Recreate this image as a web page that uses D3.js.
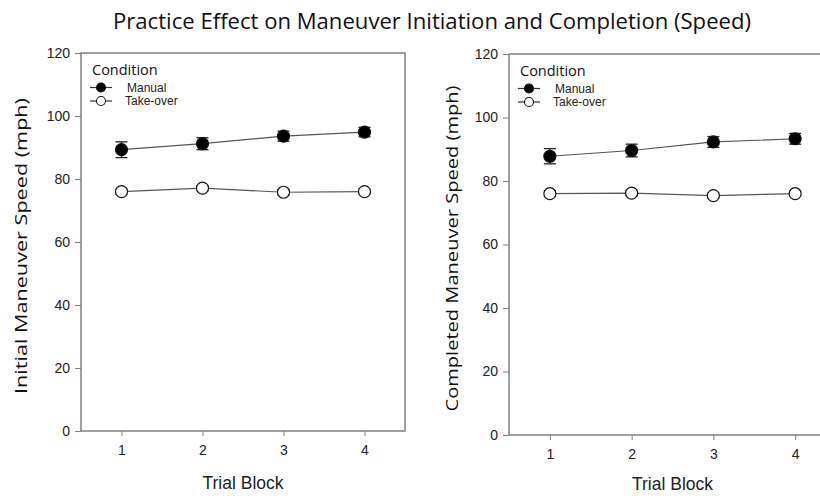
<!DOCTYPE html>
<html>
<head>
<meta charset="utf-8">
<script src="https://cdn.jsdelivr.net/npm/d3@7"></script>
<style>
  body { margin: 0; background: #fff; }
  .tick text { font-family: "Liberation Sans", Arial, sans-serif; font-size: 14px; fill: #222; }
  .tick line, .domain { stroke: #808080; }
</style>
</head>
<body>
<div id="chart"></div>
<script>
var blocks = [1, 2, 3, 4];
var yTicks = [0, 20, 40, 60, 80, 100, 120];
var seriesNames = ["Manual", "Take-over"];

// initial maneuver speed (mph)
var initManual = [89.3, 91.2, 93.6, 94.9];
var initManualErr = [2.5, 1.9, 1.6, 1.5];
var initTakeover = [76.0, 77.1, 75.8, 76.0];
var initTakeoverErr = [0.8, 0.8, 0.8, 0.8];

// completed maneuver speed (mph)
var compManual = [87.8, 89.6, 92.3, 93.3];
var compManualErr = [2.4, 2.0, 1.7, 1.7];
var compTakeover = [76.0, 76.2, 75.4, 76.0];
var compTakeoverErr = [0.9, 0.9, 0.8, 0.8];

var W = 820, H = 496;

var svg = d3.select("#chart").append("svg")
    .attr("width", W)
    .attr("height", H);

svg.append("text")
    .attr("x", 432)
    .attr("y", 29)
    .attr("text-anchor", "middle")
    .attr("textLength", 638)
    .attr("lengthAdjust", "spacingAndGlyphs")
    .style("font-family", "'Open Sans', sans-serif")
    .style("font-size", "21px")
    .style("fill", "#111")
    .text("Practice Effect on Maneuver Initiation and Completion (Speed)");

panel({
    left: 81, right: 405, top: 53, bottom: 431,
    ylabel: "Initial Maneuver Speed (mph)", ylabelX: 27, ylabelLen: 296,
    xlabelY: 489,
    manual: initManual, manualErr: initManualErr,
    takeover: initTakeover, takeoverErr: initTakeoverErr
});

panel({
    left: 509, right: 836, top: 54, bottom: 435,
    ylabel: "Completed Maneuver Speed (mph)", ylabelX: 458, ylabelLen: 326,
    xlabelY: 490,
    manual: compManual, manualErr: compManualErr,
    takeover: compTakeover, takeoverErr: compTakeoverErr
});

function panel(c) {
    var x = d3.scaleLinear().domain([0.5, 4.5]).range([c.left, c.right]);
    var y = d3.scaleLinear().domain([0, 120]).range([c.bottom, c.top]);
    var g = svg.append("g");

    // frame
    g.append("rect")
        .attr("x", c.left).attr("y", c.top)
        .attr("width", c.right - c.left).attr("height", c.bottom - c.top)
        .attr("fill", "none").attr("stroke", "#808080").attr("stroke-width", 1.5);

    g.append("g")
        .attr("transform", "translate(" + c.left + ",0)")
        .call(d3.axisLeft(y).tickValues(yTicks).tickSize(6).tickPadding(5).tickFormat(d3.format("d")))
        .call(function(a) { a.select(".domain").remove(); });

    g.append("g")
        .attr("transform", "translate(0," + c.bottom + ")")
        .call(d3.axisBottom(x).tickValues(blocks).tickSize(5).tickPadding(9).tickFormat(d3.format("d")))
        .call(function(a) { a.select(".domain").remove(); });

    g.append("text")
        .attr("transform", "translate(" + c.ylabelX + "," + ((c.top + c.bottom) / 2 + 4) + ") rotate(-90)")
        .attr("text-anchor", "middle")
        .attr("textLength", c.ylabelLen)
        .attr("lengthAdjust", "spacingAndGlyphs")
        .style("font-family", "'Open Sans', sans-serif")
        .style("font-size", "17px")
        .style("fill", "#111")
        .text(c.ylabel);

    g.append("text")
        .attr("x", x(2.5))
        .attr("y", c.xlabelY)
        .attr("text-anchor", "middle")
        .style("font-family", "'Liberation Sans', Arial, sans-serif")
        .style("font-size", "17.5px")
        .style("fill", "#222")
        .text("Trial Block");

    var series = [
        { name: seriesNames[0], vals: c.manual, err: c.manualErr, fill: "#000" },
        { name: seriesNames[1], vals: c.takeover, err: c.takeoverErr, fill: "#fff" }
    ];

    var line = d3.line()
        .x(function(d, i) { return x(blocks[i]); })
        .y(function(d) { return y(d); });

    series.forEach(function(s) {
        g.append("path")
            .attr("d", line(s.vals))
            .attr("fill", "none")
            .attr("stroke", "#555")
            .attr("stroke-width", 1.2);

        var eb = g.append("g").selectAll("g").data(s.vals).enter().append("g")
            .attr("stroke", "#222").attr("stroke-width", 1.3);
        eb.append("line")
            .attr("x1", function(d, i) { return x(blocks[i]); })
            .attr("x2", function(d, i) { return x(blocks[i]); })
            .attr("y1", function(d, i) { return y(d - s.err[i]); })
            .attr("y2", function(d, i) { return y(d + s.err[i]); });
        [-1, 1].forEach(function(sign) {
            eb.append("line")
                .attr("x1", function(d, i) { return x(blocks[i]) - 6; })
                .attr("x2", function(d, i) { return x(blocks[i]) + 6; })
                .attr("y1", function(d, i) { return y(d + sign * s.err[i]); })
                .attr("y2", function(d, i) { return y(d + sign * s.err[i]); });
        });

        g.append("g").selectAll("circle").data(s.vals).enter().append("circle")
            .attr("cx", function(d, i) { return x(blocks[i]); })
            .attr("cy", function(d) { return y(d); })
            .attr("r", 6)
            .attr("fill", s.fill)
            .attr("stroke", "#111")
            .attr("stroke-width", 1.2);
    });

    // legend
    var lx = c.left + 10, ly = c.top + 22;
    g.append("text")
        .attr("x", lx + 1).attr("y", ly)
        .style("font-family", "'Open Sans', sans-serif")
        .style("font-size", "14.5px")
        .style("fill", "#111")
        .text("Condition");

    series.forEach(function(s, k) {
        var yy = ly + 12.5 + k * 13.5;
        g.append("line")
            .attr("x1", lx - 1).attr("x2", lx + 21)
            .attr("y1", yy).attr("y2", yy)
            .attr("stroke", "#333").attr("stroke-width", 1.2);
        g.append("circle")
            .attr("cx", lx + 10).attr("cy", yy).attr("r", 4.5)
            .attr("fill", s.fill).attr("stroke", "#111").attr("stroke-width", 1.1);
        g.append("text")
            .attr("x", k === 0 ? lx + 36 : lx + 34)
            .attr("y", yy + 4)
            .style("font-family", "'Liberation Sans', Arial, sans-serif")
            .style("font-size", "12px")
            .style("fill", "#222")
            .text(s.name);
    });
}
</script>
</body>
</html>
